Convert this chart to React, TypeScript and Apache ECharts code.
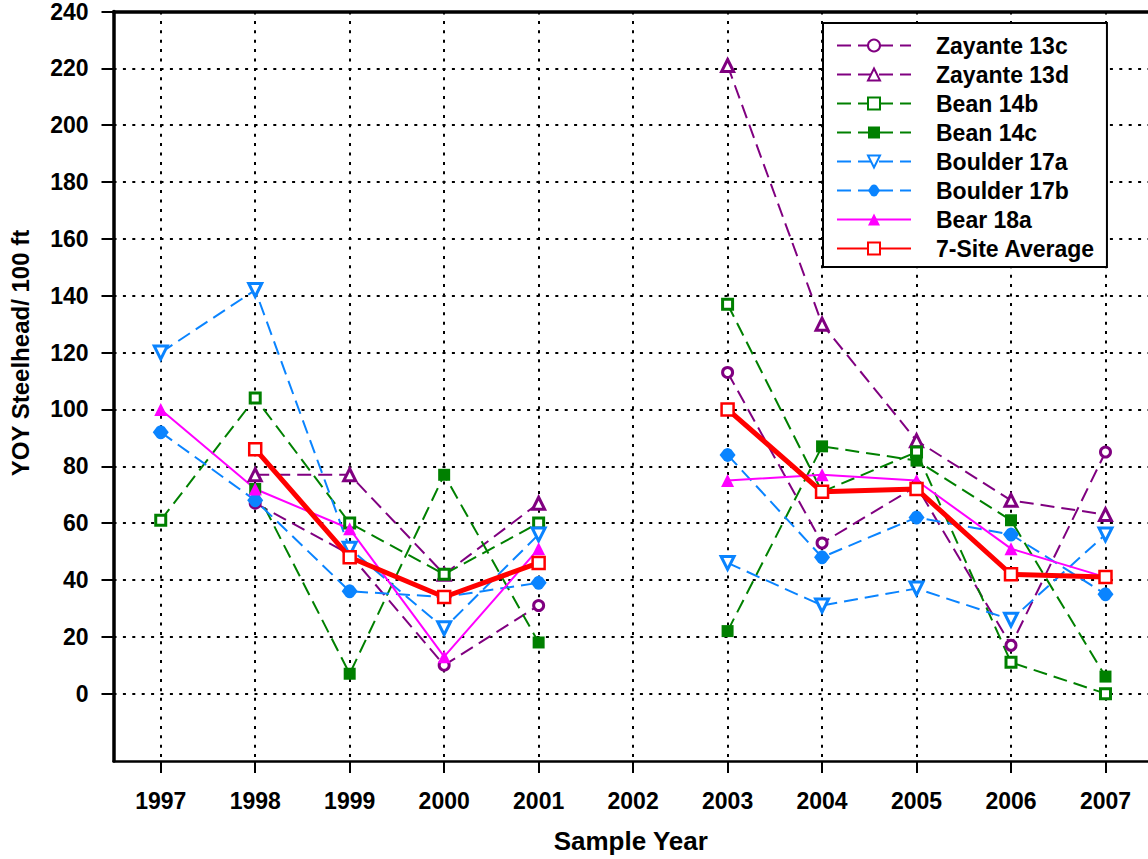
import React, { useEffect, useRef } from "react";
import * as echarts from "echarts";

const years = [1997, 1998, 1999, 2000, 2001, 2002, 2003, 2004, 2005, 2006, 2007];
const yTicks = [0, 20, 40, 60, 80, 100, 120, 140, 160, 180, 200, 220, 240];

const zayante13c = [null, 67, 49, 10, 31, null, 113, 53, 73, 17, 85];
const zayante13d = [null, 77, 77, 42, 67, null, 221, 130, 89, 68, 63];
const bean14b = [61, 104, 60, 42, 60, null, 137, 71, 85, 11, 0];
const bean14c = [null, 72, 7, 77, 18, null, 22, 87, 82, 61, 6];
const boulder17a = [120, 142, 51, 23, 56, null, 46, 31, 37, 26, 56];
const boulder17b = [92, 68, 36, 34, 39, null, 84, 48, 62, 56, 35];
const bear18a = [100, 72, 58, 13, 51, null, 75, 77, 75, 51, 41];
const average7 = [null, 86, 48, 34, 46, null, 100, 71, 72, 42, 41];

const FONT = "'Liberation Sans', Arial, sans-serif";
const PURPLE = "#800080";
const GREEN = "#008000";
const BLUE = "#0a84ff";
const MAGENTA = "#ff00ff";
const RED = "#ff0000";

const BLOB = "path://M0,5 L2.6,1.4 Q5,-0.6 7.4,1.4 L10,5 L7.4,8.6 Q5,10.6 2.6,8.6 Z";

function pairs(vals: (number | null)[]) {
  return years.map((y, i) => [y, vals[i] === null ? null : vals[i]]);
}

export default function App() {
  const ref = useRef<HTMLDivElement>(null);
  useEffect(() => {
    if (!ref.current) return;
    const chart = echarts.init(ref.current, null, { renderer: "svg" });

    const mk = (
      name: string,
      vals: (number | null)[],
      color: string,
      symbol: string,
      hollow: boolean,
      dashed: boolean,
      opts: any = {}
    ) => ({
      name,
      type: "line",
      data: pairs(vals),
      connectNulls: false,
      color,
      symbol,
      symbolSize: opts.size || 11,
      symbolRotate: opts.rotate || 0,
      showAllSymbol: true,
      lineStyle: {
        color,
        width: opts.width || 2,
        type: dashed ? [14, 7] : "solid",
      },
      itemStyle: hollow
        ? { color: "#ffffff", borderColor: color, borderWidth: opts.bw || 3 }
        : { color, borderColor: color, borderWidth: 0 },
      emphasis: { disabled: true },
      z: opts.z || 2,
    });

    const series = [
      mk("Zayante 13c", zayante13c, PURPLE, "circle", true, true, { size: 10 }),
      mk("Zayante 13d", zayante13d, PURPLE, "triangle", true, true, { size: 12 }),
      mk("Bean 14b", bean14b, GREEN, "rect", true, true, { size: 10 }),
      mk("Bean 14c", bean14c, GREEN, "rect", false, true, { size: 12 }),
      mk("Boulder 17a", boulder17a, BLUE, "triangle", true, true, { size: 13, rotate: 180 }),
      mk("Boulder 17b", boulder17b, BLUE, BLOB, false, true, { size: [16, 14] }),
      mk("Bear 18a", bear18a, MAGENTA, "triangle", false, false, { size: 13 }),
      mk("7-Site Average", average7, RED, "rect", true, false, { size: 12, width: 5, bw: 2.5, z: 5 }),
    ];

    const dotted = { color: "#000", width: 2, type: [3, 6.4] };

    chart.setOption({
      animation: false,
      textStyle: { fontFamily: FONT },
      grid: { left: 113.5, right: 0, top: 8.5, bottom: 97.3, containLabel: false },
      xAxis: [
        {
          type: "value",
          min: 1996.5,
          max: 2007.45,
          position: "bottom",
          axisLine: { show: true, onZero: false, lineStyle: { color: "#000", width: 2.5 } },
          axisTick: { show: true, length: 12, lineStyle: { color: "#000", width: 2 }, customValues: years },
          axisLabel: {
            customValues: years,
            color: "#000",
            fontSize: 23,
            fontWeight: "bold",
            fontFamily: FONT,
            margin: 28,
            formatter: (v: number) => String(v),
          },
          splitLine: { show: true, lineStyle: dotted },
          name: "Sample Year",
          nameLocation: "middle",
          nameGap: 67,
          nameTextStyle: { color: "#000", fontSize: 26, fontWeight: "bold", fontFamily: FONT },
        },
        {
          type: "value",
          min: 1996.5,
          max: 2007.45,
          position: "top",
          axisLine: { show: true, onZero: false, lineStyle: { color: "#000", width: 3.5 } },
          axisTick: { show: false },
          axisLabel: { show: false },
          splitLine: { show: false },
        },
      ],
      yAxis: {
        type: "value",
        min: -23.7,
        max: 240,
        axisLine: { show: true, onZero: false, lineStyle: { color: "#000", width: 3.5 } },
        axisTick: { show: true, length: 12, lineStyle: { color: "#000", width: 2 }, customValues: yTicks },
        axisLabel: {
          customValues: yTicks,
          color: "#000",
          fontSize: 23,
          fontWeight: "bold",
          fontFamily: FONT,
          margin: 25,
        },
        splitLine: { show: true, lineStyle: dotted },
      },
      legend: {
        show: true,
        orient: "vertical",
        left: 823,
        top: 23,
        padding: [11, 12, 7, 13],
        itemGap: 6,
        itemWidth: 74,
        itemHeight: 15,
        selectedMode: false,
        backgroundColor: "#ffffff",
        borderColor: "#000",
        borderWidth: 2,
        borderRadius: 0,
        textStyle: {
          color: "#000",
          fontSize: 23,
          fontWeight: "bold",
          fontFamily: FONT,
          lineHeight: 23,
          padding: [0, 0, 0, 20],
        },
        data: series.map((s) => s.name),
      },
      graphic: [
        {
          type: "text",
          x: 20,
          y: 353,
          rotation: Math.PI / 2,
          style: {
            text: "YOY Steelhead/ 100 ft",
            fill: "#000",
            font: "bold 24px 'Liberation Sans', Arial, sans-serif",
            align: "center",
            verticalAlign: "middle",
          },
        },
      ],
      series,
    });

    return () => chart.dispose();
  }, []);

  return (
    <div
      ref={ref}
      style={{ position: "fixed", left: 0, top: 0, width: 1148, height: 859, background: "#fff" }}
    />
  );
}
